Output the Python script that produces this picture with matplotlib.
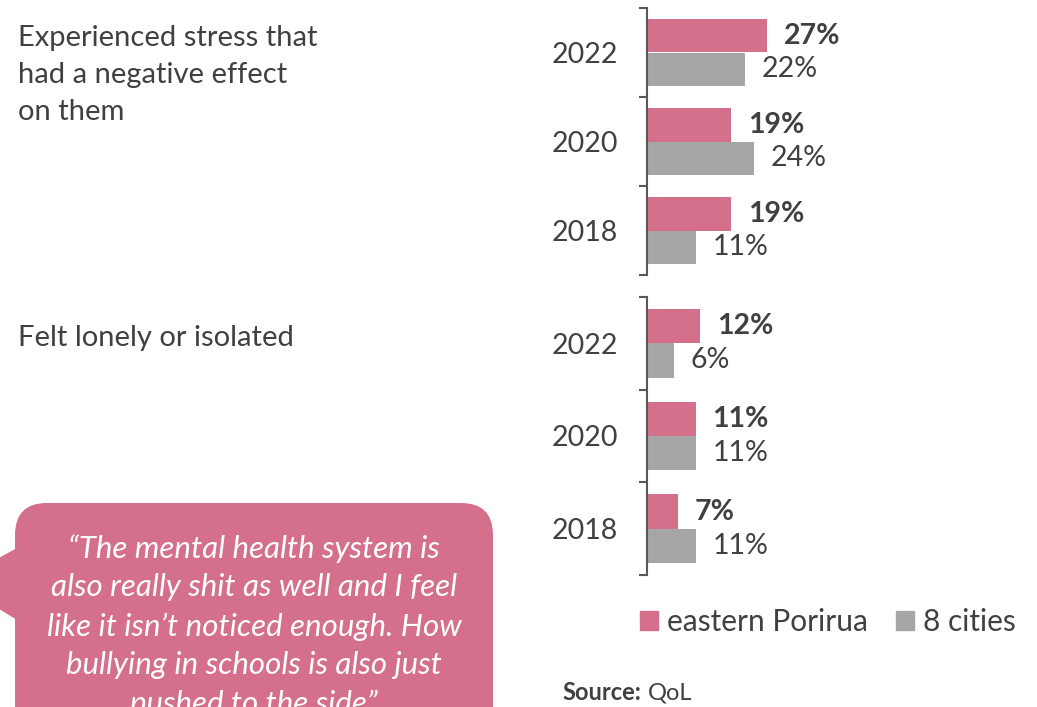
import matplotlib.pyplot as plt
from matplotlib.patches import FancyBboxPatch, Polygon, Patch

plt.rcParams['font.family'] = ['Lato', 'DejaVu Sans']

# data
years = ['2022', '2020', '2018']
stress_porirua = [27, 19, 19]
stress_cities = [22, 24, 11]
lonely_porirua = [12, 11, 7]
lonely_cities = [6, 11, 11]
measures = ['Experienced stress that\nhad a negative effect\non them', 'Felt lonely or isolated']
series = ['eastern Porirua', '8 cities']
quote = ('\u201cThe mental health system is\nalso really shit as well and I feel\n'
         'like it isn\u2019t noticed enough. How\nbullying in schools is also just\n'
         'pushed to the side\u201d')

pink = '#D4708C'
grey = '#A6A6A6'
txt = '#404040'
W, H = 1037, 707

fig = plt.figure(figsize=(W / 100, H / 100), dpi=100)

# background layer in pixel coordinates
bg = fig.add_axes([0, 0, 1, 1], zorder=0)
bg.set_xlim(0, W)
bg.set_ylim(H, 0)
bg.axis('off')

bg.add_patch(Polygon([(17, 548), (-45, 582), (17, 620)], closed=True, color=pink, lw=0))
bg.add_patch(FancyBboxPatch((15, 503), 478, 300, boxstyle='round,pad=0,rounding_size=32',
                            color=pink, lw=0))
bg.text(254, 534, quote, ha='center', va='top', color='white', fontsize=22.5,
        style='italic', linespacing=1.46)

bg.text(18, 25, measures[0], ha='left', va='top', color=txt, fontsize=21, linespacing=1.52)
bg.text(18, 338, measures[1], ha='left', va='center', color=txt, fontsize=21)

bg.text(562, 693, 'Source:', ha='left', va='center', color=txt, fontsize=17, weight='bold')
bg.text(648, 693, 'QoL', ha='left', va='center', color=txt, fontsize=17)

xmax = 40
px_per = 4.44
ax_w = xmax * px_per


def draw_group(top, bottom, vals_p, vals_c, bh):
    ax = fig.add_axes([647 / W, 1 - bottom / H, ax_w / W, (bottom - top) / H], zorder=2)
    ax.patch.set_alpha(0)
    y = range(len(years))
    ax.barh([i - bh / 2 for i in y], vals_p, height=bh, color=pink)
    ax.barh([i + bh / 2 for i in y], vals_c, height=bh, color=grey)
    for i in y:
        ax.annotate(f'{vals_p[i]}%', (vals_p[i], i - bh / 2), xytext=(12, 0),
                    textcoords='offset points', ha='left', va='center',
                    fontsize=20.5, weight='bold', color=txt)
        ax.annotate(f'{vals_c[i]}%', (vals_c[i], i + bh / 2), xytext=(12, 0),
                    textcoords='offset points', ha='left', va='center',
                    fontsize=20.5, color=txt)
    ax.set_xlim(0, xmax)
    ax.set_ylim(len(years) - 0.5, -0.5)
    ax.set_yticks(list(y))
    ax.set_yticklabels(years, fontsize=20.5, color=txt)
    ax.tick_params(axis='y', which='major', length=0, pad=21)
    ax.set_yticks([-0.5, 0.5, 1.5, 2.5], minor=True)
    ax.tick_params(axis='y', which='minor', length=6, width=1.5, color='#595959', direction='out')
    ax.set_xticks([])
    for s in ['top', 'right', 'bottom']:
        ax.spines[s].set_visible(False)
    ax.spines['left'].set_color('#595959')
    ax.spines['left'].set_linewidth(1.5)
    return ax


draw_group(8, 275, stress_porirua, stress_cities, 0.38)
draw_group(297, 575, lonely_porirua, lonely_cities, 0.37)

handles = [Patch(color=pink, label=series[0]), Patch(color=grey, label=series[1])]
fig.legend(handles=handles, loc='center left', bbox_to_anchor=(640 / W, 1 - 622 / H),
           frameon=False, ncol=2, fontsize=21.5, handlelength=0.6, handleheight=0.6,
           handletextpad=0.3, columnspacing=0.95, borderpad=0, borderaxespad=0, labelcolor=txt)

fig.savefig('out.png', dpi=100)
